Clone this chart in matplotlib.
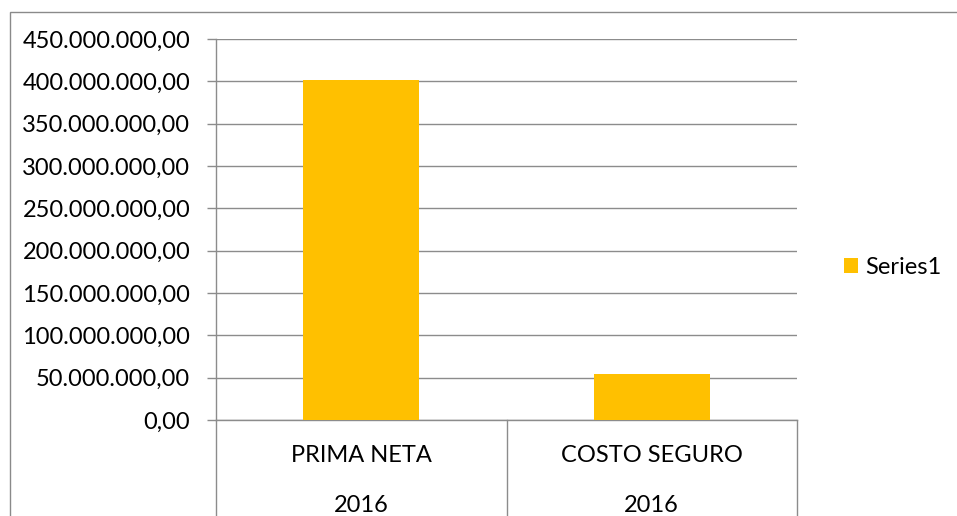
import matplotlib
matplotlib.use('Agg')
import matplotlib.pyplot as plt
from matplotlib.patches import Rectangle
from matplotlib.ticker import FuncFormatter, MultipleLocator

categories = ['PRIMA NETA', 'COSTO SEGURO']
years      = ['2016', '2016']
values     = [401_500_000, 54_800_000]
series     = 'Series1'

W, H = 957, 516
BAR   = '#FFC000'
GRID  = '#8C8C8C'
FS    = 17
plt.rcParams['font.family'] = ['Lato', 'DejaVu Sans']

def es_fmt(v, _pos=None):
    # 1.234.567,00 style
    s = f'{v:,.2f}'
    return s.replace(',', '_').replace('.', ',').replace('_', '.')

fig = plt.figure(figsize=(W / 100, H / 100), dpi=100)

# chart frame (runs off the right and bottom edges)
fig.patches.append(Rectangle((10 / W, -0.1), 1.2, 1.1 - 12 / H, transform=fig.transFigure,
                             fill=False, edgecolor='#8A8A8A', linewidth=1.0))

x0, x1, y0, y1 = 216, 797, 420, 39
ax = fig.add_axes([x0 / W, (H - y0) / H, (x1 - x0) / W, (y0 - y1) / H])

xs = range(len(categories))
ax.bar(xs, values, width=0.4, color=BAR, label=series, zorder=3)
ax.set_xlim(-0.5, len(categories) - 0.5)
ax.set_ylim(0, 450_000_000)
ax.yaxis.set_major_locator(MultipleLocator(50_000_000))
ax.yaxis.set_major_formatter(FuncFormatter(es_fmt))
ax.grid(axis='y', color=GRID, linewidth=1.0, zorder=0)
ax.set_xticks([])
ax.tick_params(axis='y', length=6.5, width=1.0, color=GRID, labelsize=FS, pad=12)
for side in ['top', 'right']:
    ax.spines[side].set_visible(False)
for side in ['left', 'bottom']:
    ax.spines[side].set_color(GRID)
    ax.spines[side].set_linewidth(1.0)

# two-level category axis: separators run down past the bottom
ph = y0 - y1
for xv in [-0.5, 0.5, 1.5]:
    ax.plot([xv, xv], [0, -0.4], color=GRID, linewidth=1.0,
            transform=ax.get_xaxis_transform(), clip_on=False)
for xi, (cat, yr) in enumerate(zip(categories, years)):
    ax.text(xi, -(455 - y0) / ph, cat, transform=ax.get_xaxis_transform(),
            ha='center', va='center', fontsize=FS)
    ax.text(xi, -(505 - y0) / ph, yr, transform=ax.get_xaxis_transform(),
            ha='center', va='center', fontsize=FS)

fig.legend(loc='center left', bbox_to_anchor=(844 / W, 1 - 267 / H), frameon=False,
           fontsize=FS, handlelength=0.6, handleheight=0.6, handletextpad=0.3,
           borderpad=0, borderaxespad=0)

fig.savefig('out.png', dpi=100)
